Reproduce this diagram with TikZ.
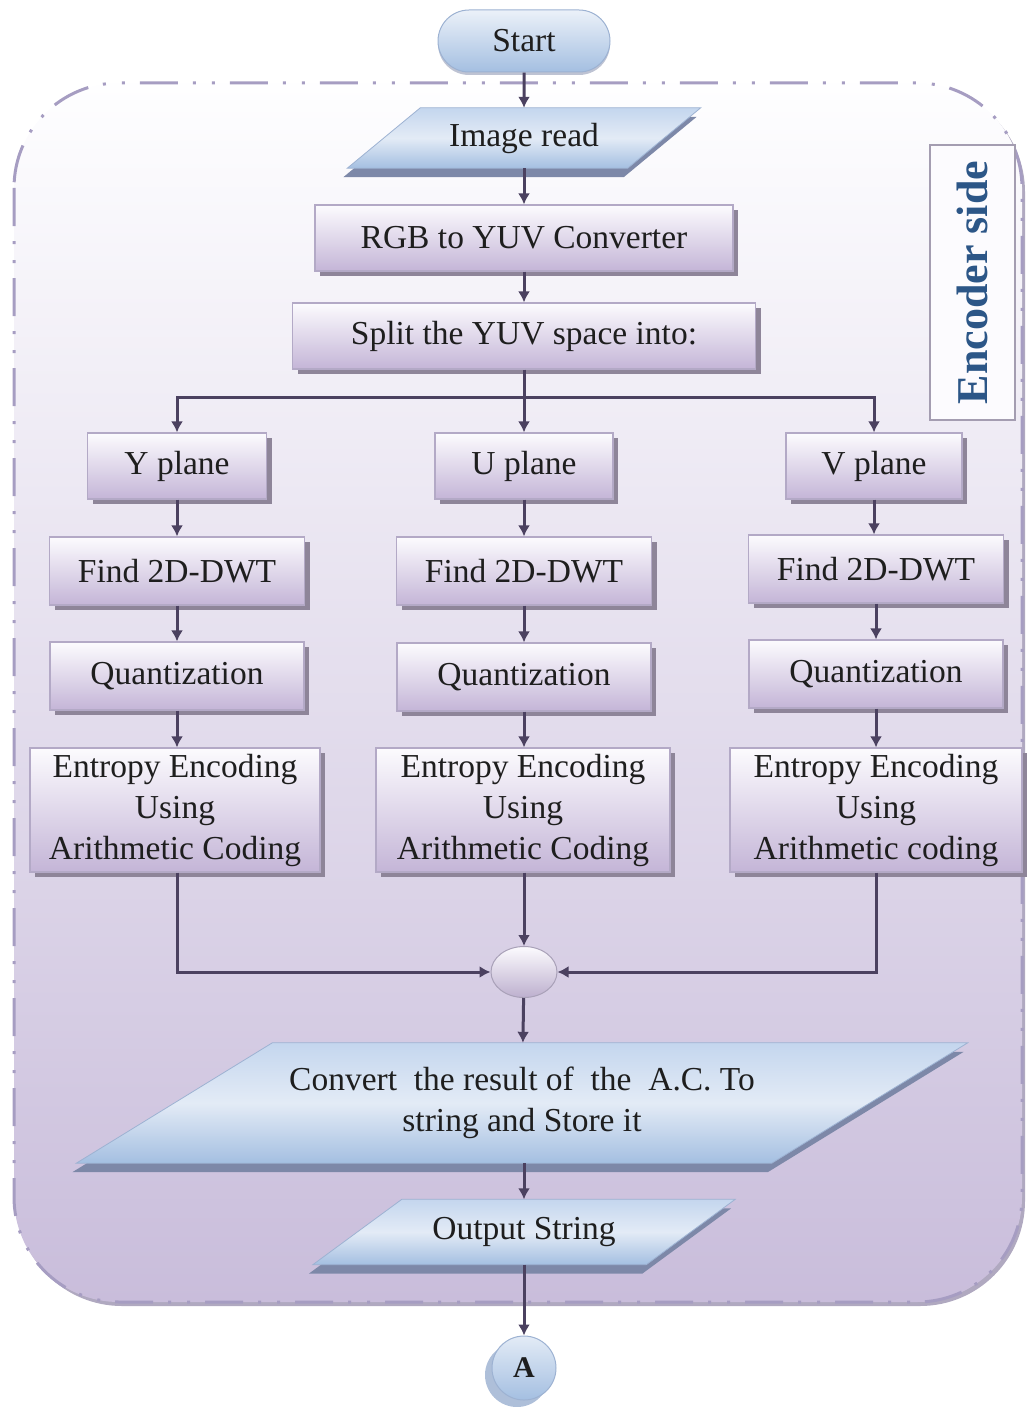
\documentclass[tikz,border=0pt]{standalone}
\usepackage{fontspec}
\setmainfont{Liberation Serif}
\usetikzlibrary{arrows.meta,shapes.misc,shapes.geometric,shadows,calc}

\definecolor{boxtop}{HTML}{FCFBFE}
\definecolor{boxbot}{HTML}{C4B5D7}
\definecolor{boxline}{HTML}{B3A9C6}
\definecolor{boxshadow}{HTML}{8E8599}
\definecolor{bluetop}{HTML}{C4D6EE}
\definecolor{bluemid}{HTML}{E3EBF6}
\definecolor{bluebot}{HTML}{A4BFE1}
\definecolor{blueline}{HTML}{9DB2D2}
\definecolor{bluestrip}{HTML}{7D88A8}
\definecolor{connshadow}{HTML}{AEBFD9}
\definecolor{flowline}{HTML}{4B4160}
\definecolor{frameline}{HTML}{A69DC2}
\definecolor{frametop}{HTML}{FEFEFF}
\definecolor{framemid}{HTML}{EEEAF4}
\definecolor{framebot}{HTML}{C9BDDB}
\definecolor{frameshadow}{HTML}{9C93B0}
\definecolor{labelblue}{HTML}{2C5687}
\definecolor{txt}{HTML}{1E1E1E}

\pgfdeclarelayer{back}
\pgfdeclarelayer{mid}
\pgfsetlayers{back,mid,main}

\tikzset{
  txtfont/.style={font=\fontsize{33.5}{41}\selectfont, text=txt},
  procbox/.style={rectangle, txtfont, align=center, inner sep=0pt,
    top color=boxtop, bottom color=boxbot, draw=boxline, line width=1.2pt,
    drop shadow={shadow xshift=5pt, shadow yshift=-5pt, fill=boxshadow, opacity=1}},
  iobox/.style={rectangle, txtfont, align=center, inner sep=0pt},
  ioface/.style={top color=bluetop, bottom color=bluebot, middle color=bluemid,
    draw=blueline, line width=0.8pt,
    drop shadow={shadow xshift=-4pt, shadow yshift=-9pt, fill=bluestrip, opacity=1}},
  terminal/.style={rounded rectangle, txtfont, inner sep=0pt,
    top color=bluemid!70!white, bottom color=bluebot, draw=blueline, line width=1pt,
    drop shadow={shadow xshift=0pt, shadow yshift=-3pt, fill=bluestrip, opacity=0.5}},
  joint/.style={ellipse, inner sep=0pt, top color=boxtop, bottom color=boxbot!90!gray,
    draw=boxline!80!gray, line width=1pt},
  connector/.style={circle, inner sep=0pt, font=\bfseries\fontsize{30}{36}\selectfont, text=txt,
    top color=bluemid, bottom color=bluebot, draw=blueline, line width=1pt,
    drop shadow={shadow xshift=-7pt, shadow yshift=-7pt, fill=connshadow, opacity=1}},
  sidelabel/.style={rectangle, rotate=90, inner sep=0pt, fill=boxtop, draw=boxline!70!gray,
    line width=1.5pt, text=labelblue, font=\bfseries\fontsize{44}{50}\selectfont},
  frame/.style={rounded corners=105pt, top color=frametop, middle color=framemid,
    bottom color=framebot, draw=frameline, line width=3pt,
    dash pattern=on 38pt off 15pt on 3pt off 16pt on 3pt off 15pt,
    drop shadow={shadow xshift=3pt, shadow yshift=-4pt, fill=frameshadow, opacity=0.8}},
  flow/.style={draw=flowline, line width=3pt, -{Latex[length=11pt,width=12pt]}}
}

% slanted input/output face behind a named text node (#2 = half of the slant)
\newcommand\ioshape[2]{%
  \begin{pgfonlayer}{mid}
    \path[ioface] ($(#1.north west)+(#2,0)$) -- ($(#1.north east)+(#2,0)$)
      -- ($(#1.south east)-(#2,0)$) -- ($(#1.south west)-(#2,0)$) -- cycle;
  \end{pgfonlayer}}

\begin{document}
\begin{tikzpicture}[x=1pt,y=-1pt]
\useasboundingbox (0,0) rectangle (1027,1407);

% encoder region
\begin{pgfonlayer}{back}
  \path[frame] (14,83) rectangle (1022,1302);
\end{pgfonlayer}

\node[terminal, minimum width=172pt, minimum height=62pt] (start) at (524,41) {Start};

\node[iobox, minimum width=280pt, minimum height=60pt] (img) at (524,138) {Image read};
\ioshape{img}{36.5}

\node[procbox, minimum width=418pt, minimum height=66pt] (rgb) at (524,238) {RGB to YUV Converter};
\node[procbox, minimum width=463pt, minimum height=66pt] (split) at (524,336) {Split the YUV space into:};

\node[sidelabel, minimum width=275pt, minimum height=85pt] (side) at (972.5,282.5) {Encoder side};

% three colour planes
\node[procbox, minimum width=179pt, minimum height=66pt] (yp) at (177,466) {Y plane};
\node[procbox, minimum width=178pt, minimum height=66pt] (up) at (524,466) {U plane};
\node[procbox, minimum width=176pt, minimum height=66pt] (vp) at (874,466) {V plane};

\node[procbox, minimum width=255pt, minimum height=68pt] (yd) at (177,571) {Find 2D-DWT};
\node[procbox, minimum width=255pt, minimum height=68pt] (ud) at (524,571) {Find 2D-DWT};
\node[procbox, minimum width=255pt, minimum height=68pt] (vd) at (876,569) {Find 2D-DWT};

\node[procbox, minimum width=254pt, minimum height=68pt] (yq) at (177,676) {Quantization};
\node[procbox, minimum width=254pt, minimum height=68pt] (uq) at (524,677) {Quantization};
\node[procbox, minimum width=254pt, minimum height=68pt] (vq) at (876,674) {Quantization};

\node[procbox, minimum width=290pt, minimum height=124pt] (ye) at (175,810) {Entropy Encoding\\Using\\Arithmetic Coding};
\node[procbox, minimum width=294pt, minimum height=124pt] (ue) at (523,810) {Entropy Encoding\\Using\\Arithmetic Coding};
\node[procbox, minimum width=292pt, minimum height=124pt] (ve) at (876,810) {Entropy Encoding\\Using\\Arithmetic coding};

\node[joint, minimum width=66pt, minimum height=51pt] (mrg) at (524,972) {};

\node[iobox, minimum width=695pt, minimum height=120pt] (conv) at (522,1103)
  {Convert\ \ the result of\ \ the\ \ A.C. To\\string and Store it};
\ioshape{conv}{98}

\node[iobox, minimum width=333pt, minimum height=65pt] (out) at (524,1232) {Output String};
\ioshape{out}{44.5}

\node[connector, minimum size=64pt] (A) at (524,1368) {A};

% connectors
\coordinate (bus) at (524,397);
\draw[flow] (start) -- (img);
\draw[flow] (img) -- (rgb);
\draw[flow] (rgb) -- (split);
\draw[flow] (split) -- (up);
\draw[flow] (bus) -| (yp.north);
\draw[flow] (bus) -| (vp.north);
\draw[flow] (yp) -- (yd);
\draw[flow] (up) -- (ud);
\draw[flow] (vp.south) -- (vd.north -| vp.south);
\draw[flow] (yd) -- (yq);
\draw[flow] (ud) -- (uq);
\draw[flow] (vd) -- (vq);
\draw[flow] (yq.south) -- (ye.north -| yq.south);
\draw[flow] (uq.south) -- (ue.north -| uq.south);
\draw[flow] (vq) -- (ve);
\draw[flow] (ye.south -| yq.south) |- (mrg.west);
\draw[flow] (ue.south -| mrg.north) -- (mrg.north);
\draw[flow] (ve.south) |- (mrg.east);
\draw[flow] (mrg) -- (conv);
\draw[flow] (conv.south -| out.south) -- (out);
\draw[flow] (out) -- (A);
\end{tikzpicture}
\end{document}
